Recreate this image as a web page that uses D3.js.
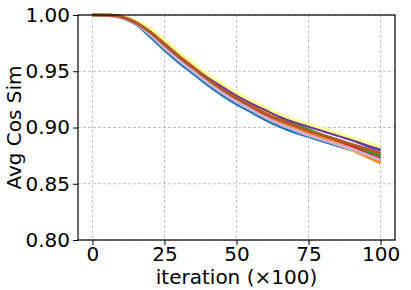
<!DOCTYPE html>
<html>
<head>
<meta charset="utf-8">
<script src="https://cdnjs.cloudflare.com/ajax/libs/d3/7.8.5/d3.min.js"></script>
<style>
  body { margin: 0; background: #fff; }
  text { font-family: "DejaVu Sans", sans-serif; }
</style>
</head>
<body>
<svg id="chart"></svg>
<script>
'use strict';

// iterations (x100), sampled every 5
var iterations = [0, 5, 10, 15, 20, 25, 30, 35, 40, 45, 50, 55, 60, 65, 70, 75, 80, 85, 90, 95, 100];

// one series per run, in colour order of the Paired map
var runLightBlue = [1.000, 0.9997, 0.998, 0.9925, 0.983, 0.971, 0.960, 0.950, 0.940, 0.931, 0.923, 0.916, 0.909, 0.903, 0.898, 0.894, 0.890, 0.886, 0.882, 0.878, 0.874];
var runBlue = [1.000, 0.9997, 0.998, 0.992, 0.981, 0.969, 0.958, 0.948, 0.938, 0.929, 0.921, 0.914, 0.907, 0.901, 0.896, 0.892, 0.888, 0.884, 0.880, 0.876, 0.871];
var runLightGreen = [1.000, 0.9999, 0.9988, 0.994, 0.986, 0.975, 0.964, 0.954, 0.944, 0.935, 0.927, 0.920, 0.913, 0.907, 0.902, 0.897, 0.893, 0.888, 0.884, 0.880, 0.876];
var runGreen = [1.000, 0.9999, 0.9988, 0.994, 0.986, 0.975, 0.964, 0.954, 0.944, 0.936, 0.929, 0.921, 0.914, 0.908, 0.903, 0.898, 0.893, 0.889, 0.884, 0.879, 0.875];
var runPink = [1.000, 0.9997, 0.998, 0.9925, 0.983, 0.971, 0.961, 0.951, 0.941, 0.932, 0.924, 0.916, 0.910, 0.904, 0.899, 0.894, 0.890, 0.885, 0.881, 0.876, 0.871];
var runRed = [1.000, 0.9998, 0.9985, 0.993, 0.984, 0.972, 0.962, 0.952, 0.942, 0.933, 0.925, 0.918, 0.911, 0.905, 0.900, 0.896, 0.891, 0.887, 0.883, 0.877, 0.872];
var runLightOrange = [1.000, 0.9999, 0.999, 0.9945, 0.987, 0.976, 0.965, 0.955, 0.945, 0.937, 0.929, 0.921, 0.914, 0.907, 0.901, 0.896, 0.891, 0.885, 0.880, 0.874, 0.868];
var runOrange = [1.000, 0.9999, 0.9988, 0.994, 0.986, 0.975, 0.964, 0.954, 0.945, 0.936, 0.928, 0.920, 0.913, 0.906, 0.901, 0.896, 0.891, 0.886, 0.881, 0.875, 0.869];
var runLavender = [1.000, 0.9997, 0.998, 0.9925, 0.983, 0.971, 0.960, 0.950, 0.940, 0.931, 0.923, 0.916, 0.909, 0.903, 0.898, 0.893, 0.889, 0.885, 0.881, 0.876, 0.871];
var runPurple = [1.000, 0.9998, 0.9985, 0.9935, 0.985, 0.974, 0.963, 0.953, 0.944, 0.936, 0.929, 0.922, 0.916, 0.910, 0.905, 0.901, 0.897, 0.893, 0.889, 0.884, 0.880];
var runYellow = [1.000, 0.9999, 0.999, 0.995, 0.988, 0.978, 0.967, 0.957, 0.947, 0.939, 0.931, 0.924, 0.918, 0.912, 0.907, 0.903, 0.899, 0.895, 0.891, 0.887, 0.883];
var runBrown = [1.000, 0.9998, 0.9985, 0.9935, 0.985, 0.974, 0.963, 0.953, 0.943, 0.934, 0.926, 0.919, 0.912, 0.907, 0.902, 0.897, 0.893, 0.889, 0.885, 0.881, 0.877];

var xTicks = [0, 25, 50, 75, 100];
var yTicks = [0.80, 0.85, 0.90, 0.95, 1.00];

var runs = [runLightBlue, runBlue, runLightGreen, runGreen, runPink, runRed,
            runLightOrange, runOrange, runLavender, runPurple, runYellow, runBrown];
var colors = d3.schemePaired;

// Setting up the chart area
var canvasWidth = 411;
var canvasHeight = 290;
var margin = { top: 15, right: 16, bottom: 50, left: 78 };
var width = canvasWidth - margin.left - margin.right;
var height = canvasHeight - margin.top - margin.bottom;
var fontSize = '20px';

var svg = d3.select('#chart')
  .attr('width', canvasWidth)
  .attr('height', canvasHeight);

var graphArea = svg.append('g')
  .attr('transform', 'translate(' + margin.left + ',' + margin.top + ')');

var xScale = d3.scaleLinear().domain([-5, 105]).range([0, width]);
var yScale = d3.scaleLinear().domain([0.80, 1.00]).range([height, 0]);

// grid
graphArea.append('g').selectAll('line.vg')
  .data(xTicks).enter().append('line')
  .attr('x1', d => xScale(d)).attr('x2', d => xScale(d))
  .attr('y1', 0).attr('y2', height)
  .attr('stroke', '#b0b0b0').attr('stroke-width', 0.8)
  .attr('stroke-dasharray', '3,2');
graphArea.append('g').selectAll('line.hg')
  .data(yTicks).enter().append('line')
  .attr('y1', d => yScale(d)).attr('y2', d => yScale(d))
  .attr('x1', 0).attr('x2', width)
  .attr('stroke', '#b0b0b0').attr('stroke-width', 0.8)
  .attr('stroke-dasharray', '3,2');

// lines
var line = d3.line()
  .x((d, i) => xScale(iterations[i]))
  .y(d => yScale(d))
  .curve(d3.curveCatmullRom.alpha(0.5));

graphArea.append('g').selectAll('path')
  .data(runs).enter().append('path')
  .attr('d', d => line(d))
  .attr('fill', 'none')
  .attr('stroke', (d, i) => colors[i])
  .attr('stroke-width', 3);

// axes
var xAxis = graphArea.append('g')
  .attr('transform', 'translate(0,' + height + ')')
  .call(d3.axisBottom(xScale).tickValues(xTicks).tickSize(5).tickPadding(2).tickFormat(d3.format('d')));
var yAxis = graphArea.append('g')
  .call(d3.axisLeft(yScale).tickValues(yTicks).tickSize(5).tickPadding(3).tickFormat(d3.format('.2f')));

[xAxis, yAxis].forEach(function(a) {
  a.attr('font-size', null).attr('font-family', null);
  a.select('.domain').remove();
  a.selectAll('.tick line').attr('stroke', '#000').attr('stroke-width', 1);
  a.selectAll('.tick text').attr('fill', '#000').style('font-size', fontSize);
});

// frame
graphArea.append('rect')
  .attr('width', width).attr('height', height)
  .attr('fill', 'none').attr('stroke', '#000').attr('stroke-width', 1.2);

// labels
svg.append('text')
  .attr('x', margin.left + width / 2)
  .attr('y', 284)
  .attr('text-anchor', 'middle')
  .style('font-size', fontSize)
  .text('iteration (×100)');

svg.append('text')
  .attr('transform', 'translate(21,' + (margin.top + height / 2) + ') rotate(-90)')
  .attr('text-anchor', 'middle')
  .style('font-size', fontSize)
  .text('Avg Cos Sim');
</script>
</body>
</html>
